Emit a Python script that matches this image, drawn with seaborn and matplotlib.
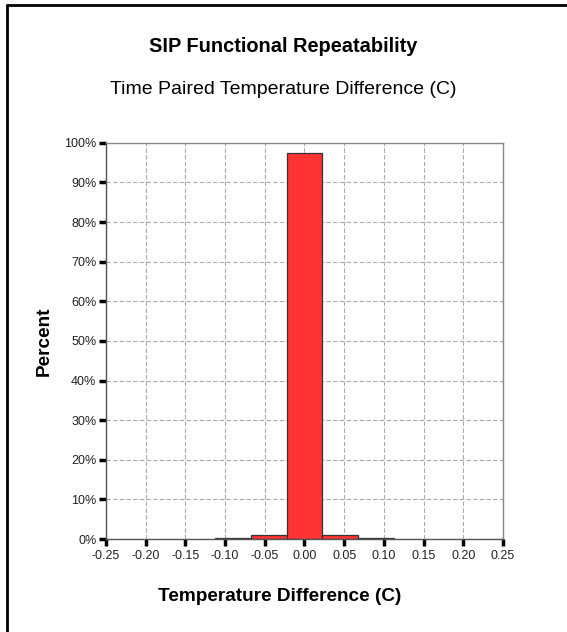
import matplotlib
matplotlib.use('Agg')
import matplotlib.pyplot as plt
from matplotlib.lines import Line2D
from matplotlib.ticker import PercentFormatter
import seaborn as sns
import pandas as pd

# histogram (bin centre, percent of pairs)
bin_centers = [-0.09, -0.045, 0.0, 0.045, 0.09]
percent = [0.2, 1.1, 97.4, 1.1, 0.2]
bin_width = 0.045
x_ticks = [-0.25, -0.20, -0.15, -0.10, -0.05, 0.00, 0.05, 0.10, 0.15, 0.20, 0.25]
y_ticks = [0, 10, 20, 30, 40, 50, 60, 70, 80, 90, 100]

df = pd.DataFrame({'diff': bin_centers, 'pct': percent})
lo = bin_centers[0] - bin_width / 2
hi = bin_centers[-1] + bin_width / 2

sns.set_style('white')
plt.rcParams['font.family'] = ['Liberation Sans', 'DejaVu Sans']
plt.rcParams['text.color'] = 'black'
plt.rcParams['axes.labelcolor'] = 'black'

fig = plt.figure(figsize=(5.67, 6.32), dpi=100)
ax = fig.add_axes([0.187, 0.147, 0.700, 0.627])

sns.histplot(data=df, x='diff', weights='pct', binwidth=bin_width, binrange=(lo, hi),
             ax=ax, color='#ff3333', alpha=1, edgecolor='#333333', linewidth=0.9)

ax.set_xlim(-0.25, 0.25)
ax.set_ylim(0, 100)
ax.set_xticks(x_ticks)
ax.set_xticklabels([f'{t:.2f}' for t in x_ticks])
ax.set_yticks(y_ticks)
ax.yaxis.set_major_formatter(PercentFormatter(decimals=0))
ax.tick_params(axis='both', bottom=True, left=True, direction='out', length=5, width=2.5,
               color='black', labelsize=9, labelcolor='#222222', pad=3)
ax.tick_params(axis='y', pad=2)
ax.set_axisbelow(True)
ax.grid(True, linestyle=(0, (4, 2)), color='#aaaaaa', linewidth=0.8)

for side in ['top', 'right']:
    ax.spines[side].set_color('#888888')
    ax.spines[side].set_linewidth(1)
for side in ['left', 'bottom']:
    ax.spines[side].set_color('#555555')
    ax.spines[side].set_linewidth(1)

ax.set_xlabel('Temperature Difference (C)', fontsize=13.7, fontweight='bold')
ax.set_ylabel('Percent', fontsize=13.7, fontweight='bold')
# the original centres the axis titles on the page rather than on the plot area
ax.xaxis.set_label_coords(0.438, -0.124)
ax.yaxis.set_label_coords(-0.134, 0.5)

fig.text(0.5, 1 - 46 / 632, 'SIP Functional Repeatability', ha='center', va='center',
         fontsize=14.4, fontweight='bold')
fig.text(0.5, 1 - 89 / 632, 'Time Paired Temperature Difference (C)', ha='center', va='center',
         fontsize=14)

# frame lines (left and top only, as in the original export)
fig.add_artist(Line2D([0.013, 0.013], [0, 0.992], transform=fig.transFigure,
                      color='black', linewidth=2))
fig.add_artist(Line2D([0.012, 1.0], [0.992, 0.992], transform=fig.transFigure,
                      color='black', linewidth=2))

fig.savefig('out.png', dpi=100)
